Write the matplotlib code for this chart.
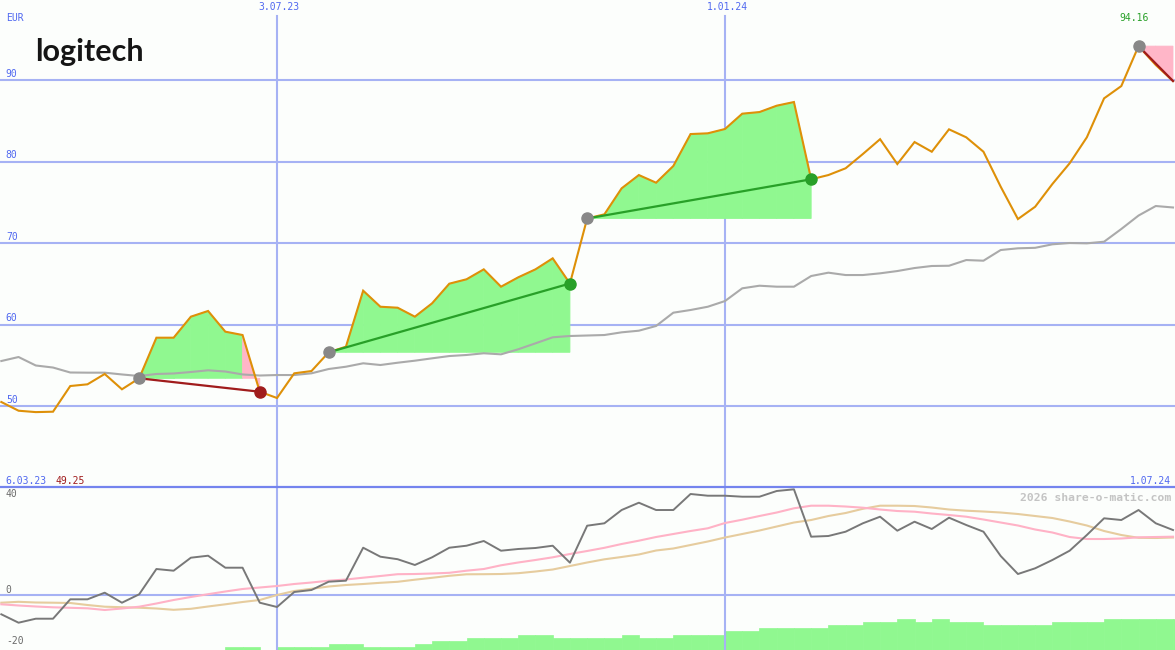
import numpy as np
import pandas as pd
import matplotlib
matplotlib.use('Agg')
import matplotlib.pyplot as plt
import matplotlib.dates as mdates
from matplotlib.lines import Line2D
from matplotlib.transforms import blended_transform_factory as btf

# ---------------- data ----------------
dates = pd.date_range('2023-03-13', periods=69, freq='7D')

price = [50.49, 49.42, 49.25, 49.30, 52.45, 52.66, 53.93, 52.05, 53.40, 58.38,
         58.38, 60.96, 61.66, 59.12, 58.71, 51.75, 50.98, 54.01, 54.29, 56.59,
         57.28, 64.15, 62.18, 62.06, 60.96, 62.60, 65.01, 65.55, 66.77, 64.64,
         65.79, 66.77, 68.12, 65.03, 73.01, 73.52, 76.71, 78.34, 77.40, 79.45,
         83.37, 83.46, 83.99, 85.87, 86.07, 86.85, 87.30, 77.82, 78.34, 79.17,
         80.92, 82.74, 79.69, 82.39, 81.20, 83.95, 82.97, 81.20, 76.91, 72.94,
         74.45, 77.24, 79.78, 82.97, 87.75, 89.26, 94.16, 91.84, 89.88]

ma = [55.52, 56.01, 54.97, 54.72, 54.11, 54.09, 54.09, 53.87, 53.68, 53.93,
      53.99, 54.17, 54.38, 54.23, 53.87, 53.74, 53.80, 53.80, 54.01, 54.54,
      54.82, 55.24, 55.03, 55.31, 55.56, 55.85, 56.13, 56.26, 56.47, 56.34,
      56.96, 57.69, 58.43, 58.59, 58.65, 58.71, 59.04, 59.24, 59.82, 61.45,
      61.78, 62.18, 62.88, 64.44, 64.76, 64.64, 64.64, 65.95, 66.36, 66.07,
      66.07, 66.28, 66.56, 66.93, 67.18, 67.21, 67.91, 67.83, 69.14, 69.35,
      69.41, 69.84, 70.00, 69.96, 70.16, 71.72, 73.37, 74.54, 74.36]

osc = [-8.11, -11.64, -9.96, -9.96, -1.81, -1.81, 0.97, -3.24, 0.29, 10.92,
       10.21, 15.67, 16.51, 11.47, 11.47, -3.24, -5.04, 1.26, 2.10, 5.59,
       6.01, 19.87, 16.09, 15.04, 12.61, 15.84, 19.87, 20.71, 22.69, 18.61,
       19.33, 19.75, 20.71, 13.57, 29.12, 30.13, 35.71, 38.78, 35.71, 35.71,
       42.44, 41.72, 41.72, 41.30, 41.30, 43.70, 44.41, 24.50, 24.79, 26.60,
       30.13, 32.90, 27.02, 30.80, 27.73, 32.48, 29.41, 26.60, 16.39, 8.82,
       11.22, 14.71, 18.61, 25.21, 32.23, 31.51, 35.71, 30.13, 27.31]

sig_pink = [-3.91, -4.41, -4.83, -5.17, -5.38, -5.59, -6.30, -5.67, -4.92, -3.57,
            -2.10, -0.84, 0.34, 1.47, 2.52, 3.15, 3.78, 4.62, 5.25, 6.01,
            6.51, 7.27, 7.98, 8.74, 8.82, 9.03, 9.33, 10.21, 10.92, 12.48,
            13.66, 14.71, 15.84, 17.23, 18.49, 19.83, 21.43, 22.82, 24.37, 25.63,
            26.89, 28.03, 30.25, 31.64, 33.19, 34.66, 36.43, 37.52, 37.52, 37.18,
            36.68, 35.92, 35.29, 35.00, 34.24, 33.61, 32.90, 31.72, 30.46, 29.20,
            27.52, 26.26, 24.37, 23.53, 23.53, 23.74, 24.24, 24.37, 24.50]

sig_tan = [-3.24, -2.86, -3.15, -3.24, -3.36, -4.20, -4.92, -5.13, -5.34, -5.67,
           -6.22, -5.80, -4.83, -3.91, -2.94, -2.10, 0.00, 1.68, 2.61, 3.57,
           4.20, 4.62, 5.13, 5.55, 6.43, 7.23, 8.07, 8.70, 8.74, 8.82,
           9.16, 9.87, 10.71, 12.18, 13.66, 15.00, 15.97, 17.02, 18.70, 19.54,
           21.01, 22.48, 24.16, 25.63, 27.10, 28.78, 30.46, 31.51, 33.19, 34.45,
           36.22, 37.52, 37.52, 37.39, 36.76, 35.92, 35.42, 35.08, 34.66, 34.03,
           33.19, 32.35, 30.88, 29.20, 26.89, 25.21, 24.03, 23.95, 24.16]

volume = [0] * 13 + [3, 3, 0, 3, 3, 3, 6, 6, 3, 3, 3, 6, 9, 9, 12, 12, 12, 15, 15,
          12, 12, 12, 12, 15, 12, 12, 15, 15, 15, 19, 19, 22, 22, 22, 22, 25, 25,
          28, 28, 31, 28, 31, 28, 28, 25, 25, 25, 25, 28, 28, 28, 31, 31, 31, 31, 31]

# trades: (entry index, exit index, closed?)
trades = [(8, 15, True), (19, 33, True), (34, 47, True), (66, 68, False)]

price_ticks = [50, 60, 70, 80, 90]
osc_ticks = [40, 0, -20]
date_ticks = ['2023-07-03', '2024-01-01']
date_tick_labels = ['3.07.23', '1.01.24']
start_label = '6.03.23'
end_label = '1.07.24'

# ---------------- styles ----------------
W, H = 1175, 650
BG = '#fcfefc'
GRID = '#a6b2f4'
SEP = '#7484ee'
BLUE = '#5068f0'
ORANGE = '#de9008'
MAGRAY = '#aaaaaa'
GREENF = '#90f890'
PINKF = '#ffb6c8'
GREEN = '#28a028'
RED = '#a01c1c'
DOT = '#888888'
MONO = 'DejaVu Sans Mono'

fig = plt.figure(figsize=(W / 100, H / 100), dpi=100, facecolor=BG)
split = 163 / H
ax = fig.add_axes([0, split, 1, 1 - split])
axv = fig.add_axes([0, 0, 1, split])
axl = fig.add_axes([0, 0, 1, split])
for a in (ax, axv, axl):
    a.set_facecolor('none')
    for s in a.spines.values():
        s.set_visible(False)
    a.set_xticks([])
    a.set_yticks([])

x = mdates.date2num(dates)
wk = 7.0
xl = (x[0] - 0.077 * wk, x[-1] + 0.116 * wk)
for a in (ax, axv, axl):
    a.set_xlim(*xl)
ax.set_ylim(40.06, 99.82)
axl.set_ylim(-23.11, 45.38)
axv.set_ylim(0, 163)

# grid
for v in price_ticks:
    ax.axhline(v, color=GRID, lw=1.5, zorder=1)
    ax.text(0.005, v + 0.15, str(v), transform=btf(ax.transAxes, ax.transData),
            ha='left', va='bottom', color=BLUE, fontsize=7, family=MONO)
for d in date_ticks:
    xd = mdates.date2num(pd.Timestamp(d))
    ax.axvline(xd, ymin=0, ymax=1 - 16 / 487, color=GRID, lw=1.5, zorder=1)
    axl.axvline(xd, color=GRID, lw=1.5, zorder=1)
for d, lab in zip(date_ticks, date_tick_labels):
    xd = mdates.date2num(pd.Timestamp(d))
    ax.text(xd + 0.8, 99.6, lab, ha='center', va='top', color=BLUE,
            fontsize=7, family=MONO)
axl.axhline(0, color=GRID, lw=1.5, zorder=1)
fig.add_artist(Line2D([0, 1], [split, split], transform=fig.transFigure,
                      color=SEP, lw=1.6))

# trade fills (per-segment quads between entry level and price)
for e, xit, closed in trades:
    E = price[e]
    for k in range(e, xit):
        col = GREENF if price[k + 1] >= E else PINKF
        ax.fill([x[k], x[k], x[k + 1], x[k + 1]],
                [E, price[k], price[k + 1], E], facecolor=col, edgecolor=col,
                lw=0.6, zorder=2)

# lines
ax.plot(x, ma, color=MAGRAY, lw=1.5, zorder=3)
ax.plot(x, price, color=ORANGE, lw=1.5, zorder=4, solid_joinstyle='miter')

for e, xit, closed in trades:
    col = GREEN if price[xit] >= price[e] else RED
    ax.plot([x[e], x[xit]], [price[e], price[xit]], color=col, lw=1.6, zorder=5)
    ax.plot(x[e], price[e], 'o', color=DOT, ms=8, zorder=6)
    if closed:
        ax.plot(x[xit], price[xit], 'o', color=col, ms=8, zorder=6)

# texts upper
ax.text(0.005, 0.963, 'EUR', transform=ax.transAxes, ha='left', va='center',
        color=BLUE, fontsize=7, family=MONO)
imax = int(np.argmax(price))
ax.text(x[imax] - 2.0, 97.6, f'{max(price):.2f}', ha='center', va='center',
        color=GREEN, fontsize=7, family=MONO)
ax.text(0.005, 0.003, start_label, transform=ax.transAxes, ha='left', va='bottom',
        color=BLUE, fontsize=7, family=MONO)
ax.text(0.047, 0.003, f'{min(price):.2f}', transform=ax.transAxes, ha='left',
        va='bottom', color=RED, fontsize=7, family=MONO)
ax.text(0.997, 0.003, end_label, transform=ax.transAxes, ha='right', va='bottom',
        color=BLUE, fontsize=7, family=MONO)
fig.text(35 / W, 1 - 52 / H, 'logitech', ha='left', va='center', color='#151515',
         fontsize=22, fontweight='bold', family='Lato')

# lower panel
axv.bar(x, volume, width=wk, align='edge', color=GREENF, edgecolor=GREENF,
        lw=0.5, zorder=1)
axl.plot(x, sig_tan, color='#e6cc9e', lw=1.5, zorder=3)
axl.plot(x, sig_pink, color='#ffb2c6', lw=1.5, zorder=3)
axl.plot(x, osc, color='#787878', lw=1.4, zorder=4)
for v in osc_ticks:
    vv = v if v >= 0 else v - 1.8
    axl.text(0.005, vv + 0.2, str(v), transform=btf(axl.transAxes, axl.transData),
             ha='left', va='bottom', color='#6a6a6a', fontsize=7, family=MONO)
axl.text(0.997, 0.93, '2026 share-o-matic.com', transform=axl.transAxes,
         ha='right', va='center', color='#c4c4c4', fontsize=8.2,
         fontweight='bold', family=MONO)

fig.savefig('out.png', dpi=100, facecolor=BG)
